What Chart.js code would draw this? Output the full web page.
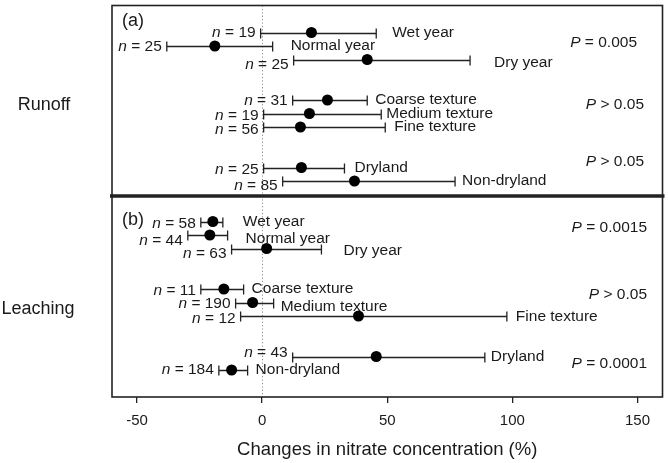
<!DOCTYPE html>
<html>
<head>
<meta charset="utf-8">
<script src="https://cdn.jsdelivr.net/npm/chart.js@4.4.1/dist/chart.umd.min.js"></script>
<style>
  html, body { margin: 0; padding: 0; background: #fff; }
  #wrap { width: 668px; height: 463px; }
</style>
</head>
<body>
<div id="wrap"><canvas id="forest-chart"></canvas></div>
<script>
// categories (same for both panels)
const categories = ['Wet year', 'Normal year', 'Dry year', 'Coarse texture', 'Medium texture', 'Fine texture', 'Dryland', 'Non-dryland'];

// (a) runoff
const runoffRows = [2, 3, 4, 7, 8, 9, 12, 13];
const runoffN = [19, 25, 25, 31, 19, 56, 25, 85];
const runoffMean = [19.7, -18.9, 42, 26.1, 18.9, 15.3, 15.7, 36.9];
const runoffLow = [-0.6, -38.1, 12.6, 12.2, 0.6, 0.6, 0.6, 8.2];
const runoffHigh = [45.6, 4.2, 83.1, 42, 47.6, 49.2, 32.9, 77.1];

// (b) leaching
const leachingRows = [16, 17, 18, 21, 22, 23, 26, 27];
const leachingN = [58, 44, 63, 11, 190, 12, 43, 184];
const leachingMean = [-19.7, -20.9, 1.8, -15.3, -3.8, 38.5, 45.6, -12.2];
const leachingLow = [-24.5, -29.7, -12.2, -24.5, -10.6, -8.6, 12.2, -17.3];
const leachingHigh = [-15.7, -13.8, 23.7, -7.4, 4.6, 97.8, 89, -5.8];

// P values per group
const pRows = [2.78, 7.32, 11.57, 16.47, 21.45, 26.5];
const pText = ['= 0.005', '> 0.05', '> 0.05', '= 0.0015', '> 0.05', '= 0.0001'];

const xTicks = [-50, 0, 50, 100, 150];

// label nudges in pixels: [gap after bar, dy of category label, dy of n label]
const nudges = [
  [16, 0, 0], [18, 0, 1], [24, 3, 5], [8, 0, 1], [5, 0, 2], [9, 0, 3], [10, 0, 2], [7, 0, 5],
  [20, 0, 2], [18, 4, 6], [22, 2, 5], [8, 0, 2], [7, 4, 1], [9, 1, 3], [6, 0, -4], [8, 0, 0]
];
const pRight = [637, 644, 644, 647, 647, 647];

const rows = runoffRows.concat(leachingRows);
const nVals = runoffN.concat(leachingN);
const means = runoffMean.concat(leachingMean);
const lows = runoffLow.concat(leachingLow);
const highs = runoffHigh.concat(leachingHigh);
const cats = categories.concat(categories);

const FONT = '"Liberation Sans", Arial, Helvetica, sans-serif';
const INK = '#1a1a1a';

function drawItalicLead(ctx, lead, rest, x, y, align, size) {
  ctx.font = 'italic ' + size + 'px ' + FONT;
  const w1 = ctx.measureText(lead).width;
  ctx.font = size + 'px ' + FONT;
  const w2 = ctx.measureText(rest).width;
  let start = align === 'right' ? x - w1 - w2 : x;
  ctx.textAlign = 'left';
  ctx.font = 'italic ' + size + 'px ' + FONT;
  ctx.fillText(lead, start, y);
  ctx.font = size + 'px ' + FONT;
  ctx.fillText(rest, start + w1, y);
}

const forestPlugin = {
  id: 'forest',
  beforeDatasetsDraw(chart) {
    const { ctx, chartArea: a, scales: { x, y } } = chart;
    ctx.save();
    // dotted zero line
    const x0 = Math.round(x.getPixelForValue(0)) + 0.5;
    ctx.strokeStyle = '#8c8c8c';
    ctx.lineWidth = 1;
    ctx.setLineDash([1.2, 2.2]);
    ctx.beginPath();
    ctx.moveTo(x0, a.top);
    ctx.lineTo(x0, a.bottom);
    ctx.stroke();
    ctx.setLineDash([]);

    // error bars
    ctx.strokeStyle = '#222';
    ctx.lineWidth = 1.3;
    rows.forEach((r, i) => {
      const py = Math.round(y.getPixelForValue(r)) + 0.5;
      const xl = x.getPixelForValue(lows[i]);
      const xh = x.getPixelForValue(highs[i]);
      ctx.beginPath();
      ctx.moveTo(xl, py); ctx.lineTo(xh, py);
      ctx.moveTo(xl, py - 5); ctx.lineTo(xl, py + 5);
      ctx.moveTo(xh, py - 5); ctx.lineTo(xh, py + 5);
      ctx.stroke();
    });
    ctx.restore();
  },
  afterDatasetsDraw(chart) {
    const { ctx, chartArea: a, scales: { x, y } } = chart;
    ctx.save();
    // frame
    ctx.strokeStyle = '#222';
    ctx.lineWidth = 1.6;
    ctx.strokeRect(a.left, a.top, a.right - a.left, a.bottom - a.top);
    // panel separator
    ctx.lineWidth = 3.5;
    ctx.beginPath();
    ctx.moveTo(a.left - 2, 196);
    ctx.lineTo(a.right + 2, 196);
    ctx.stroke();

    ctx.fillStyle = INK;
    ctx.textBaseline = 'middle';
    // labels beside each bar
    rows.forEach((r, i) => {
      const py = y.getPixelForValue(r);
      const xl = x.getPixelForValue(lows[i]);
      const xh = x.getPixelForValue(highs[i]);
      const nd = nudges[i];
      ctx.font = '15.5px ' + FONT;
      ctx.textAlign = 'left';
      ctx.fillText(cats[i], xh + nd[0], py + nd[1]);
      drawItalicLead(ctx, 'n', ' = ' + nVals[i], xl - 5, py + nd[2], 'right', 15.5);
    });
    // P values
    pRows.forEach((r, i) => {
      drawItalicLead(ctx, 'P', ' ' + pText[i], pRight[i], y.getPixelForValue(r), 'right', 15.5);
    });
    // panel letters
    ctx.font = '18px ' + FONT;
    ctx.textAlign = 'left';
    ctx.fillText('(a)', 122, 21);
    ctx.fillText('(b)', 122, 220);
    // group names
    ctx.textAlign = 'center';
    ctx.fillText('Runoff', 44, y.getPixelForValue(7.4));
    ctx.fillText('Leaching', 38, y.getPixelForValue(22.5));
    ctx.restore();
  }
};

const data = {
  datasets: [{
    data: rows.map((r, i) => ({ x: means[i], y: r })),
    pointRadius: 5.5,
    pointBackgroundColor: '#000',
    pointBorderColor: '#000',
    pointBorderWidth: 0,
    showLine: false
  }]
};

const config = {
  type: 'scatter',
  data: data,
  options: {
    responsive: true,
    maintainAspectRatio: false,
    animation: false,
    devicePixelRatio: 1,
    layout: { padding: { left: 112, right: 4, top: 1, bottom: 0 } },
    plugins: { legend: { display: false }, tooltip: { enabled: false } },
    events: [],
    scales: {
      x: {
        type: 'linear',
        min: -60,
        max: 160,
        afterBuildTicks: (scale) => { scale.ticks = xTicks.map(v => ({ value: v })); },
        afterFit: (scale) => { scale.height = 66; },
        grid: { drawOnChartArea: false, drawTicks: true, tickLength: 6, color: '#222', lineWidth: 1.3 },
        border: { display: false },
        ticks: { color: INK, font: { family: FONT, size: 15 }, padding: 9, maxRotation: 0 },
        title: {
          display: true,
          text: 'Changes in nitrate concentration (%)',
          color: INK,
          font: { family: FONT, size: 18.5 },
          padding: { top: 0, bottom: 2 }
        }
      },
      y: {
        type: 'linear',
        min: 0,
        max: 29,
        reverse: true,
        display: false
      }
    }
  },
  plugins: [forestPlugin]
};

const chart = new Chart(document.getElementById('forest-chart'), config);
</script>
</body>
</html>
